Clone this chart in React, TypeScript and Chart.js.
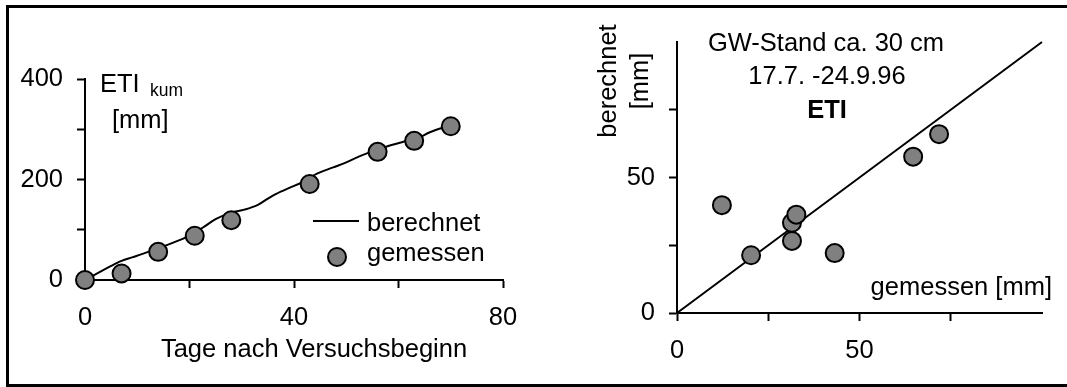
import React, { useEffect, useRef } from 'react';
import Chart from 'chart.js/auto';

const FONT = '"Liberation Sans", Arial, sans-serif';
const FS = 25.5;

// ---- Left chart: cumulative ETI over days ----
const dayLabels = [0, 40, 80];
const etiLabels = [0, 200, 400];
const calcDays = [0, 2, 5, 7, 9, 11, 14, 17, 19.5, 22.5, 25, 28, 30.5, 33, 35, 36.5, 39, 41.5, 44.5, 47.5, 50, 52.5, 55, 58.5, 62, 64, 66, 70];
const calcEti = [0, 11, 28, 38, 45, 52, 63, 75, 86, 104, 121, 134, 140, 149, 162, 171, 183, 194, 212, 224, 234, 246, 256, 268, 278, 284, 294, 308];
const measDays = [0, 7, 14, 21, 28, 43, 56, 63, 70];
const measEti = [0, 13, 56, 88, 119, 191, 255, 277, 306];

// ---- Right chart: calculated vs measured ----
const scatterMeasured = [12.3, 20.3, 31.5, 32.7, 31.5, 43.2, 64.7, 71.8];
const scatterCalculated = [39.8, 21.3, 33.3, 36.3, 26.6, 22.1, 57.7, 66.0];
const diagonal = [0, 100];
const mmLabels = [0, 50];

const MARKER_FILL = '#808080';

const leftAnnot = {
  id: 'leftAnnot',
  afterDraw(chart: any) {
    const ctx = chart.ctx;
    ctx.save();
    ctx.fillStyle = '#000';
    ctx.textBaseline = 'alphabetic';
    ctx.textAlign = 'left';
    ctx.font = `${FS}px ${FONT}`;
    ctx.fillText('ETI', 100, 92);
    ctx.font = `17.5px ${FONT}`;
    ctx.fillText('kum', 150, 96);
    ctx.font = `${FS}px ${FONT}`;
    ctx.fillText('[mm]', 112, 128);
    ctx.textAlign = 'center';
    ctx.fillText('Tage nach Versuchsbeginn', 314, 357);
    // legend
    ctx.strokeStyle = '#000';
    ctx.lineWidth = 2;
    ctx.beginPath();
    ctx.moveTo(313, 221);
    ctx.lineTo(359, 221);
    ctx.stroke();
    ctx.beginPath();
    ctx.arc(337, 257, 9, 0, Math.PI * 2);
    ctx.fillStyle = MARKER_FILL;
    ctx.fill();
    ctx.stroke();
    ctx.fillStyle = '#000';
    ctx.textAlign = 'left';
    ctx.fillText('berechnet', 367, 231);
    ctx.fillText('gemessen', 367, 261);
    ctx.restore();
  },
};

const rightAnnot = {
  id: 'rightAnnot',
  afterDraw(chart: any) {
    const ctx = chart.ctx;
    ctx.save();
    ctx.fillStyle = '#000';
    ctx.textBaseline = 'alphabetic';
    ctx.textAlign = 'center';
    ctx.font = `${FS}px ${FONT}`;
    ctx.fillText('GW-Stand ca. 30 cm', 286, 51);
    ctx.fillText('17.7. -24.9.96', 287, 84);
    ctx.font = `bold ${FS}px ${FONT}`;
    ctx.fillText('ETI', 287, 118);
    ctx.font = `${FS}px ${FONT}`;
    ctx.textAlign = 'right';
    ctx.fillText('gemessen [mm]', 512, 295);
    ctx.textAlign = 'center';
    ctx.save();
    ctx.translate(76, 81);
    ctx.rotate(-Math.PI / 2);
    ctx.fillText('berechnet', 0, 0);
    ctx.restore();
    ctx.save();
    ctx.translate(108, 81);
    ctx.rotate(-Math.PI / 2);
    ctx.fillText('[mm]', 0, 0);
    ctx.restore();
    ctx.restore();
  },
};

const tickFont = { family: FONT, size: FS };

function axis(min: number, max: number, step: number, labels: number[], hideTickAt: number | null, fitFn: (s: any) => void) {
  return {
    type: 'linear' as const,
    min,
    max,
    afterFit: fitFn,
    border: { display: true, color: '#000', width: 2 },
    grid: {
      display: true,
      drawOnChartArea: false,
      drawTicks: true,
      tickLength: 8,
      tickWidth: 2,
      tickColor: (c: any) => (hideTickAt !== null && c.tick && c.tick.value === hideTickAt ? 'rgba(0,0,0,0)' : '#000'),
    },
    ticks: {
      stepSize: step,
      autoSkip: false,
      maxRotation: 0,
      minRotation: 0,
      padding: 15,
      color: '#000',
      font: tickFont,
      callback: (v: any) => (labels.includes(Number(v)) ? String(v) : ''),
    },
  };
}

export default function App() {
  const leftRef = useRef<HTMLCanvasElement>(null);
  const rightRef = useRef<HTMLCanvasElement>(null);

  useEffect(() => {
    const leftX = axis(0, 80, 20, dayLabels, null, (s: any) => { s.height = 107; });
    const leftY = axis(0, 400, 100, etiLabels, null, (s: any) => { s.width = 85; });
    (leftY.ticks as any).padding = 14;

    const left = new Chart(leftRef.current as HTMLCanvasElement, {
      type: 'scatter',
      data: {
        datasets: [
          {
            label: 'gemessen',
            data: measDays.map((d, i) => ({ x: d, y: measEti[i] })),
            showLine: false,
            pointRadius: 9,
            pointBackgroundColor: MARKER_FILL,
            pointBorderColor: '#000',
            pointBorderWidth: 2,
            clip: false as any,
            order: 0,
          },
          {
            label: 'berechnet',
            data: calcDays.map((d, i) => ({ x: d, y: calcEti[i] })),
            showLine: true,
            borderColor: '#000',
            borderWidth: 2,
            pointRadius: 0,
            tension: 0.35,
            clip: false as any,
            order: 1,
          },
        ],
      },
      options: {
        responsive: false,
        maintainAspectRatio: false,
        animation: false,
        layout: { padding: { left: 0, top: 79, right: 37, bottom: 0 } },
        plugins: { legend: { display: false }, tooltip: { enabled: false } },
        scales: { x: leftX as any, y: leftY as any },
      },
      plugins: [leftAnnot],
    });

    const rightX = axis(0, 100, 25, mmLabels, 100, (s: any) => { s.height = 74; });
    const rightY = axis(0, 100, 25, mmLabels, 100, (s: any) => { s.width = 137; });
    (rightY.ticks as any).padding = 14;

    const right = new Chart(rightRef.current as HTMLCanvasElement, {
      type: 'scatter',
      data: {
        datasets: [
          {
            label: 'Messwerte',
            data: scatterMeasured.map((m, i) => ({ x: m, y: scatterCalculated[i] })),
            showLine: false,
            pointRadius: 9,
            pointBackgroundColor: MARKER_FILL,
            pointBorderColor: '#000',
            pointBorderWidth: 2,
            clip: false as any,
            order: 0,
          },
          {
            label: '1:1',
            data: diagonal.map((v) => ({ x: v, y: v })),
            showLine: true,
            borderColor: '#000',
            borderWidth: 2,
            pointRadius: 0,
            clip: false as any,
            order: 1,
          },
        ],
      },
      options: {
        responsive: false,
        maintainAspectRatio: false,
        animation: false,
        layout: { padding: { left: 0, top: 42, right: 25, bottom: 0 } },
        plugins: { legend: { display: false }, tooltip: { enabled: false } },
        scales: { x: rightX as any, y: rightY as any },
      },
      plugins: [rightAnnot],
    });

    return () => {
      left.destroy();
      right.destroy();
    };
  }, []);

  return (
    <div style={{ position: 'absolute', left: 0, top: 0, width: 1067, height: 387, overflow: 'hidden', background: '#fff' }}>
      <div style={{ position: 'absolute', left: 6, top: 5, width: 1070, height: 376, border: '3px solid #000' }} />
      <canvas ref={leftRef} width={540} height={387} style={{ position: 'absolute', left: 0, top: 0, width: 540, height: 387 }} />
      <canvas ref={rightRef} width={527} height={387} style={{ position: 'absolute', left: 540, top: 0, width: 527, height: 387 }} />
    </div>
  );
}
